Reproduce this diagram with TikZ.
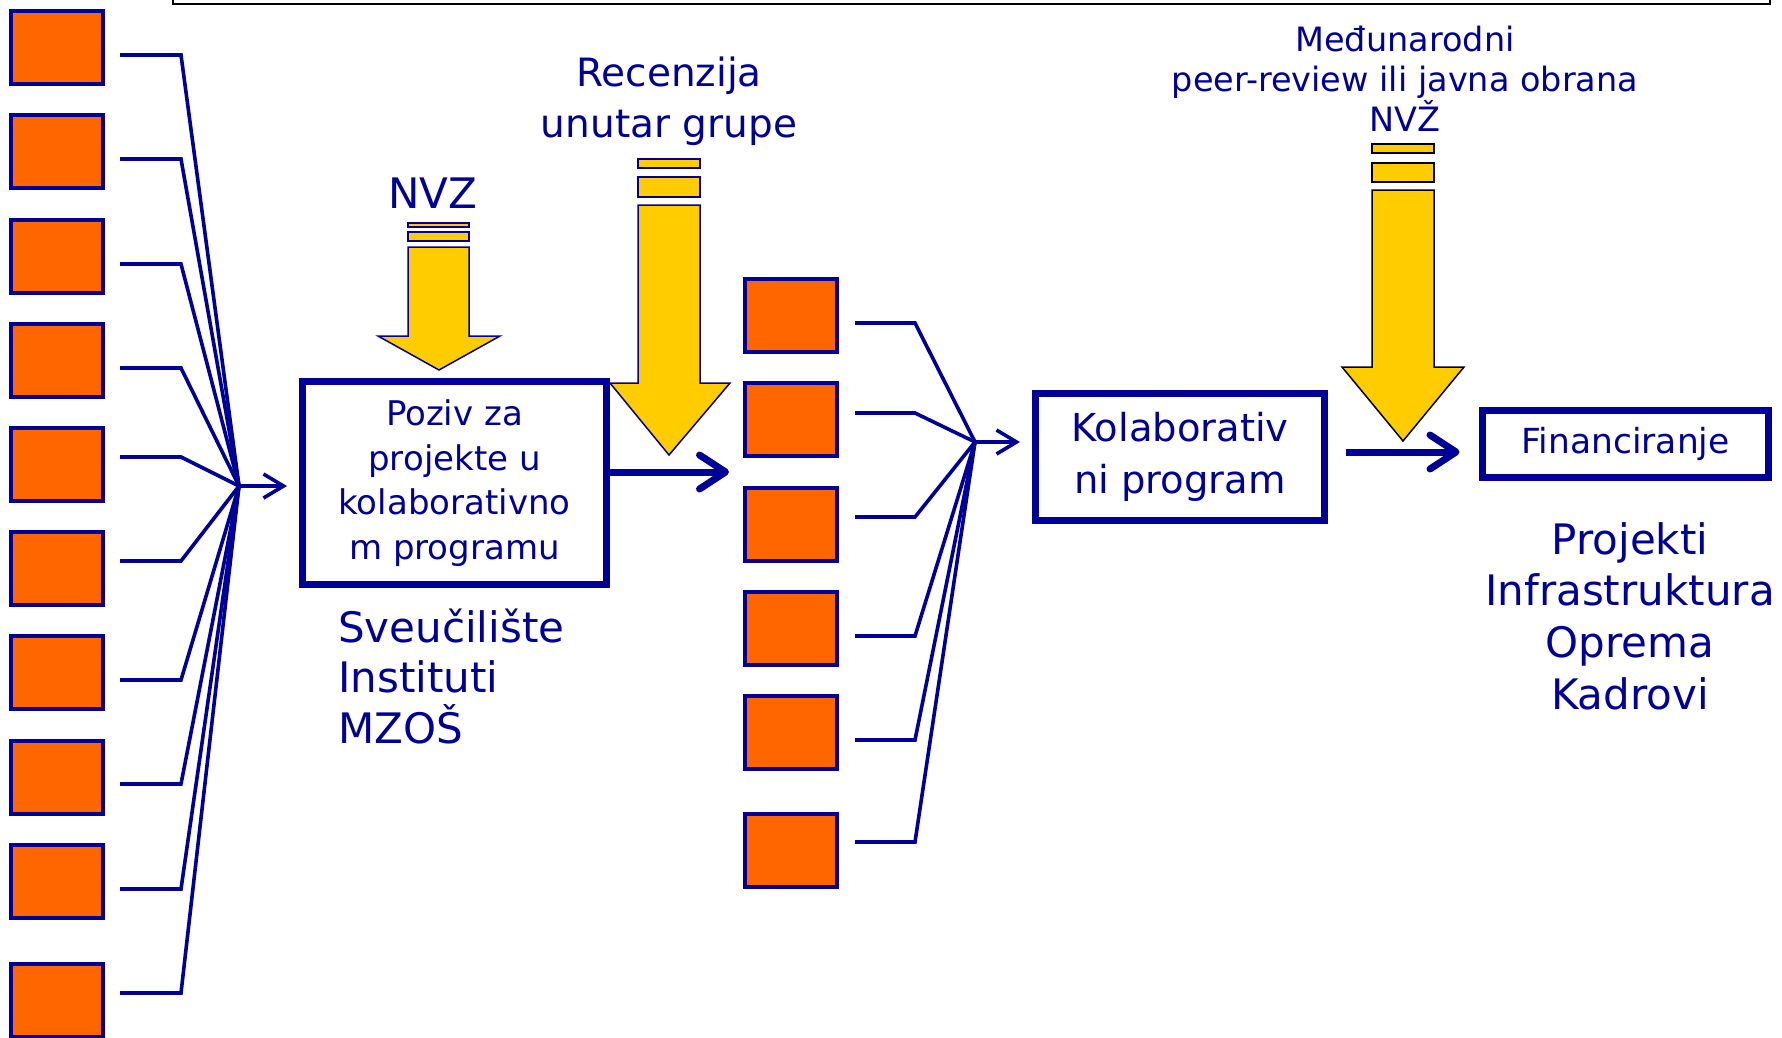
\documentclass[tikz,border=0pt]{standalone}
\usepackage{fontspec}
\setmainfont{DejaVu Sans}
\usetikzlibrary{arrows.meta}
\definecolor{navy}{RGB}{0,0,153}
\definecolor{orng}{RGB}{255,102,0}
\definecolor{yel}{RGB}{255,204,0}
\begin{document}
\begin{tikzpicture}[x=1pt,y=-1pt,
 sq/.style={draw=navy,fill=orng,line width=4pt,minimum width=92pt,minimum height=73pt,inner sep=0pt},
 bigbox/.style={draw=navy,fill=white,line width=7pt,inner sep=0pt,text=navy,align=center},
 conn/.style={draw=navy,line width=3.6pt,line join=miter},
 thinarrow/.style={draw=navy,line width=3.6pt,-{Straight Barb[length=20pt,width=24pt]}},
 thickarrow/.style={draw=navy,line width=7pt,-{Straight Barb[length=26pt,width=34pt,round]}},
 yarrow/.style={fill=yel,draw=navy,line width=1.5pt,line join=miter},
 lbl/.style={text=navy,inner sep=0pt,align=center},
]
\useasboundingbox (0,0) rectangle (1782,1037);
\clip (0,0) rectangle (1782,1037);
\fill[white] (0,0) rectangle (1782,1037);
% top frame
\draw[black,line width=2pt] (173,-20) rectangle (1770,4);
% yellow arrows
\draw[yarrow] (408,223) rectangle (469,227);
\draw[yarrow] (408,232) rectangle (469,241);
\draw[yarrow] (408,247) -- (469,247) -- (469,336) -- (500,336) -- (439,370) -- (378,336) -- (408,336) -- cycle;
\draw[yarrow] (638,159) rectangle (700,168);
\draw[yarrow] (638,177) rectangle (700,197);
\draw[yarrow] (638,205) -- (700,205) -- (700,383) -- (730,383) -- (669,455) -- (610,383) -- (638,383) -- cycle;
\draw[yarrow,draw=black] (1372,144) rectangle (1434,153);
\draw[yarrow,draw=black] (1372,163) rectangle (1434,182);
\draw[yarrow,draw=black] (1372,190) -- (1434,190) -- (1434,367) -- (1464,367) -- (1403,441) -- (1342,367) -- (1372,367) -- cycle;
% left squares
\foreach \i/\y in {1/47.5,2/151.5,3/256,4/360.5,5/464.5,6/568.5,7/672.5,8/777,9/881.5,10/1000.5}
  \node[sq] (L\i) at (57,\y) {};
% middle squares
\foreach \i/\y in {1/315.5,2/419.5,3/524,4/628.5,5/732,6/850.5}
  \node[sq] (M\i) at (791,\y) {};
% boxes
\node[bigbox,minimum width=304pt,minimum height=203pt,font=\fontsize{34}{44.7}\selectfont] (P) at (454.5,483) {Poziv za\\projekte u\\kolaborativno\\m programu};
\node[bigbox,minimum width=289pt,minimum height=127pt,font=\fontsize{38.5}{52}\selectfont] (K) at (1180,457) {Kolaborativ\\ni program};
\node[bigbox,minimum width=286pt,minimum height=67pt,font=\fontsize{34.5}{40}\selectfont] (F) at (1625.5,444) {Financiranje};
% left connectors
\coordinate (c1) at (239,486);
\coordinate (c1e) at (287,486);
\foreach \i/\dy in {1/-7.5,2/-7.5,3/-8,4/-7.5,5/7.5,6/7.5,7/-7.5,8/-7,9/-7.5,10/7.5}
  \draw[conn] ([xshift=15pt,yshift=\dy pt]L\i.east) -- ++(61,0) -- (c1);
\draw[thinarrow] (c1) -- (c1e);
% middle connectors
\coordinate (c2) at (975,442);
\coordinate (c2e) at (1020,442);
\foreach \i/\dy in {1/-7.5,2/6.5,3/7,4/-7.5,5/-8,6/8.5}
  \draw[conn] ([xshift=16pt,yshift=\dy pt]M\i.east) -- ++(60,0) -- (c2);
\draw[thinarrow] (c2) -- (c2e);
% thick arrows
\coordinate (pa) at (729,472);
\draw[thickarrow] ([yshift=11pt]P.east) -- (pa);
\draw[thickarrow] ([xshift=17.5pt,yshift=5pt]K.east) -- ([xshift=-19.5pt,yshift=-8pt]F.west);
% labels
\node[lbl,font=\fontsize{39}{51}\selectfont] (rec) at (669,101) {Recenzija\\unutar grupe};
\node[lbl,font=\fontsize{42}{50}\selectfont] (nvz) at (433,193) {NVZ};
\node[lbl,font=\fontsize{33.5}{40}\selectfont] (med) at (1405,79) {Međunarodni\\peer-review ili javna obrana\\NVŽ};
\node[lbl,anchor=west,align=left,font=\fontsize{42}{50.5}\selectfont] (sve) at (338,676) {Sveučilište\\Instituti\\MZOŠ};
\node[lbl,font=\fontsize{42}{51.7}\selectfont] (proj) at (1630,616) {Projekti\\Infrastruktura\\Oprema\\Kadrovi};
\end{tikzpicture}
\end{document}
